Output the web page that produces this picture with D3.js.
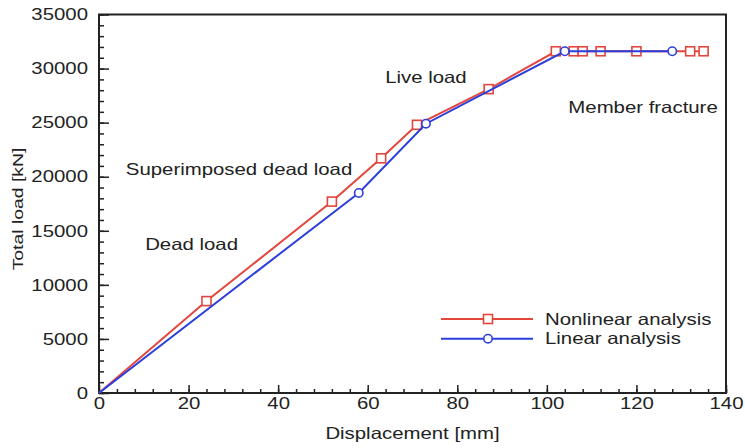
<!DOCTYPE html>
<html>
<head>
<meta charset="utf-8">
<script src="https://cdn.jsdelivr.net/npm/d3@7"></script>
<style>
  body { margin: 0; background: #fff; }
  svg text { font-family: "Liberation Sans", Arial, Helvetica, sans-serif; fill: #222; }
</style>
</head>
<body>
<div id="chart"></div>
<script>
// data
var nonlinearDisp = [0, 24, 52, 63, 71, 87, 102, 106, 108, 112, 120, 132, 135]
var nonlinearLoad = [0, 8500, 17700, 21700, 24800, 28100, 31600, 31600, 31600, 31600, 31600, 31600, 31600]
var linearDisp = [0, 58, 73, 104, 128]
var linearLoad = [0, 18500, 24900, 31600, 31600]

var xTicks = [0, 20, 40, 60, 80, 100, 120, 140]
var yTicks = [0, 5000, 10000, 15000, 20000, 25000, 30000, 35000]

var annotations = [
    {text: "Live load", disp: 63.9, load: 28700},
    {text: "Member fracture", disp: 104.8, load: 25900},
    {text: "Superimposed dead load", disp: 6.0, load: 20200},
    {text: "Dead load", disp: 10.3, load: 13200}
]

var legendItems = [
    {name: "Nonlinear analysis", kind: "square"},
    {name: "Linear analysis", kind: "circle"}
]

var red = "#e2463c",
    blue = "#2c3fdc",
    stretch = 1.25   // the fonts in the picture are drawn wide

var width = 745, height = 448
var margin = {left: 99, right: 19, top: 14.5, bottom: 55}

var svg = d3.select("#chart")
    .append("svg")
        .attr("width", width)
        .attr("height", height)

var x = d3.scaleLinear()
    .domain([0, 140])
    .range([margin.left, width - margin.right])

var y = d3.scaleLinear()
    .domain([0, 35000])
    .range([height - margin.bottom, margin.top])

// minor ticks
svg.append("g")
    .attr("transform", "translate(0," + y(0) + ")")
    .call(d3.axisBottom(x).tickValues(d3.range(0, 141, 4)).tickSizeInner(-4).tickSizeOuter(0).tickFormat(""))
    .call(g => g.select(".domain").remove())

svg.append("g")
    .attr("transform", "translate(" + x(0) + ",0)")
    .call(d3.axisLeft(y).tickValues(d3.range(0, 35001, 1000)).tickSizeInner(-5).tickSizeOuter(0).tickFormat(""))
    .call(g => g.select(".domain").remove())

// major ticks + labels
var xAxis = svg.append("g")
    .attr("transform", "translate(0," + y(0) + ")")
    .call(d3.axisBottom(x).tickValues(xTicks).tickSizeInner(-8).tickSizeOuter(0).tickPadding(12))

var yAxis = svg.append("g")
    .attr("transform", "translate(" + x(0) + ",0)")
    .call(d3.axisLeft(y).tickValues(yTicks).tickSizeInner(-10).tickSizeOuter(0).tickFormat(d3.format("d")))

svg.selectAll(".tick line")
    .attr("stroke", "#222")
    .attr("stroke-width", 1.5)
svg.selectAll(".domain").remove()

xAxis.selectAll("text")
    .attr("font-size", 16.3)
    .attr("y", 0)
    .attr("dy", 0)
    .attr("transform", "translate(0,16) scale(" + stretch + ",1)")

yAxis.selectAll("text")
    .attr("font-size", 16.3)
    .attr("x", 0)
    .attr("transform", "translate(-11,0) scale(" + stretch + ",1)")

// frame
svg.append("rect")
    .attr("x", x(0))
    .attr("y", y(35000))
    .attr("width", x(140) - x(0))
    .attr("height", y(0) - y(35000))
    .attr("fill", "none")
    .attr("stroke", "#222")
    .attr("stroke-width", 2)

// axis titles
svg.append("text")
    .attr("text-anchor", "middle")
    .attr("font-size", 16.3)
    .attr("transform", "translate(" + ((x(0) + x(140)) / 2) + ",439) scale(" + stretch + ",1)")
    .text("Displacement [mm]")

svg.append("text")
    .attr("text-anchor", "middle")
    .attr("font-size", 15.5)
    .attr("transform", "translate(23,209) rotate(-90) scale(" + stretch + ",1)")
    .text("Total load [kN]")

// annotations
svg.selectAll(".note")
    .data(annotations)
    .enter()
    .append("text")
    .attr("class", "note")
    .attr("font-size", 16.3)
    .attr("transform", d => "translate(" + x(d.disp) + "," + y(d.load) + ") scale(" + stretch + ",1)")
    .text(d => d.text)

var line = d3.line()
    .x(d => x(d[0]))
    .y(d => y(d[1]))

var nonlinear = nonlinearDisp.map((d, i) => [d, nonlinearLoad[i]])
var linear = linearDisp.map((d, i) => [d, linearLoad[i]])

function drawSquares(g, pts, s){
    g.selectAll("rect")
        .data(pts)
        .enter()
        .append("rect")
        .attr("x", d => x(d[0]) - s / 2)
        .attr("y", d => y(d[1]) - s / 2)
        .attr("width", s)
        .attr("height", s)
        .attr("fill", "#fff")
        .attr("stroke", red)
        .attr("stroke-width", 1.6)
}

function drawCircles(g, pts, r){
    g.selectAll("circle")
        .data(pts)
        .enter()
        .append("circle")
        .attr("cx", d => x(d[0]))
        .attr("cy", d => y(d[1]))
        .attr("r", r)
        .attr("fill", "#fff")
        .attr("stroke", blue)
        .attr("stroke-width", 1.6)
}

svg.append("path")
    .datum(nonlinear)
    .attr("d", line)
    .attr("fill", "none")
    .attr("stroke", red)
    .attr("stroke-width", 2)

drawSquares(svg.append("g"), nonlinear.slice(1), 9)

svg.append("path")
    .datum(linear)
    .attr("d", line)
    .attr("fill", "none")
    .attr("stroke", blue)
    .attr("stroke-width", 2)

drawCircles(svg.append("g"), linear.slice(1), 4.2)

// legend
var legend = svg.append("g")
    .attr("transform", "translate(441,319)")

legendItems.forEach(function(item, i){
    var row = legend.append("g")
        .attr("transform", "translate(0," + (i * 19.7) + ")")
    var col = item.kind == "square" ? red : blue
    row.append("line")
        .attr("x1", 0)
        .attr("x2", 92)
        .attr("stroke", col)
        .attr("stroke-width", 2)
    if (item.kind == "square"){
        row.append("rect")
            .attr("x", 42.5).attr("y", -4.5)
            .attr("width", 9).attr("height", 9)
            .attr("fill", "#fff").attr("stroke", red).attr("stroke-width", 1.6)
    } else {
        row.append("circle")
            .attr("cx", 47).attr("r", 4.2)
            .attr("fill", "#fff").attr("stroke", blue).attr("stroke-width", 1.6)
    }
    row.append("text")
        .attr("font-size", 16.3)
        .attr("transform", "translate(104,5.6) scale(" + stretch + ",1)")
        .text(item.name)
})
</script>
</body>
</html>
